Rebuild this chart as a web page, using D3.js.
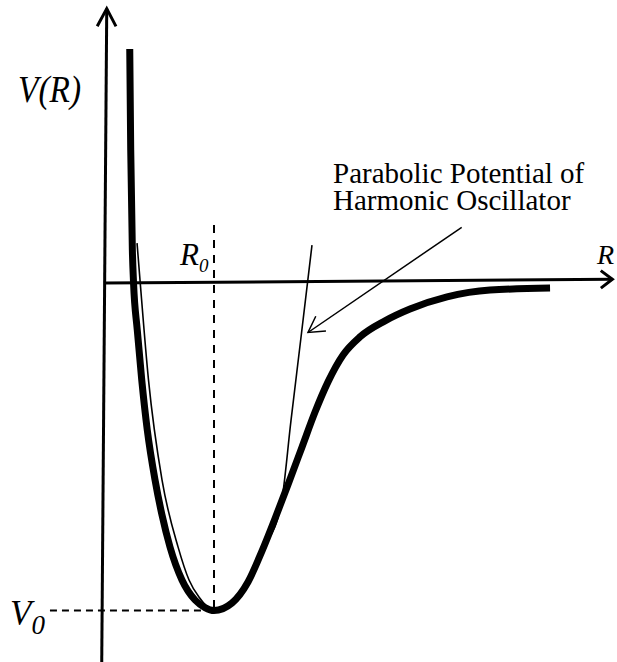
<!DOCTYPE html>
<html>
<head>
<meta charset="utf-8">
<script src="https://cdn.jsdelivr.net/npm/d3@7"></script>
<style>
  html, body { margin: 0; padding: 0; background: #fff; }
  svg { display: block; }
  text { font-family: "Liberation Serif", "Times New Roman", serif; fill: #000; }
</style>
</head>
<body>
<svg id="chart" width="617" height="662"></svg>
<script>
// Interatomic potential V(R); R in units of R0, V in units of |V0|
const potentialR = [0.227, 0.236, 0.251, 0.262, 0.296, 0.337, 0.388, 0.459, 0.523, 0.596,
                    0.706, 0.826, 0.917, 1.000, 1.165, 1.312, 1.440, 1.569, 1.688, 1.807,
                    1.927, 2.046, 2.184, 2.339, 2.569, 2.798, 3.138, 3.532, 4.083];
const potentialV = [0.712, 0.404, 0.099, -0.002, -0.145, -0.297, -0.450, -0.602, -0.709, -0.806,
                    -0.907, -0.968, -0.991, -1.000, -0.977, -0.913, -0.819, -0.712, -0.608, -0.502,
                    -0.395, -0.303, -0.221, -0.166, -0.117, -0.081, -0.044, -0.023, -0.017];

// Parabolic (harmonic oscillator) approximation about the minimum
const harmonicR = [0.294, 0.321, 0.399, 0.523, 0.670, 0.771, 0.862, 1.000, 1.165, 1.312,
                   1.440, 1.615, 1.706, 1.803, 1.899];
const harmonicV = [0.120, 0.008, -0.297, -0.602, -0.806, -0.907, -0.959, -1.000, -0.977, -0.913,
                   -0.819, -0.678, -0.422, -0.154, 0.114];

// Equilibrium separation and well depth
const equilibriumR = [1];
const wellDepthV = [-1];

// Text
const axisLabelV = "V(R)";
const axisLabelR = "R";
const annotationLines = ["Parabolic Potential of", "Harmonic Oscillator"];

const svg = d3.select("#chart");
const x = d3.scaleLinear().domain([0, 1]).range([105, 214]);
const y = d3.scaleLinear().domain([-1, 0]).range([610.5, 282.5]);

// Open arrowhead at a tip, wings swept back toward angle `back`
function arrowHead(tip, back, len, half) {
  const a1 = back + half, a2 = back - half;
  return "M" + (tip[0] + len * Math.cos(a1)) + "," + (tip[1] + len * Math.sin(a1)) +
         "L" + tip[0] + "," + tip[1] +
         "L" + (tip[0] + len * Math.cos(a2)) + "," + (tip[1] + len * Math.sin(a2));
}
function drawArrow(from, to, width, len, half) {
  svg.append("line")
    .attr("x1", from[0]).attr("y1", from[1]).attr("x2", to[0]).attr("y2", to[1])
    .attr("stroke", "#000").attr("stroke-width", width);
  const back = Math.atan2(from[1] - to[1], from[0] - to[0]);
  svg.append("path").attr("d", arrowHead(to, back, len, half))
    .attr("fill", "none").attr("stroke", "#000").attr("stroke-width", width)
    .attr("stroke-linejoin", "miter");
}

// Axes (drawn freehand, slightly off true vertical/horizontal)
drawArrow([x(-0.030), y(-1.16)], [x(0.016), y(0.835)], 3, 20, 28 * Math.PI / 180);
drawArrow([x(0), y(-0.0015)], [x(4.655), y(0.0098)], 3, 14.5, 37 * Math.PI / 180);

// Guide lines to the equilibrium point
svg.append("line")
  .attr("x1", x(equilibriumR[0])).attr("x2", x(equilibriumR[0]))
  .attr("y1", y(0.175)).attr("y2", y(wellDepthV[0]))
  .attr("stroke", "#000").attr("stroke-width", 2).attr("stroke-dasharray", "8,7");
svg.append("line")
  .attr("x1", x(-0.505)).attr("x2", x(equilibriumR[0]))
  .attr("y1", y(wellDepthV[0])).attr("y2", y(wellDepthV[0]))
  .attr("stroke", "#000").attr("stroke-width", 2).attr("stroke-dasharray", "7,5");

const line = d3.line()
  .x(d => x(d[0])).y(d => y(d[1]))
  .curve(d3.curveMonotoneX);

// Harmonic approximation (thin)
svg.append("path")
  .attr("d", line(harmonicR.map((r, i) => [r, harmonicV[i]])))
  .attr("fill", "none").attr("stroke", "#000").attr("stroke-width", 1.6);

// Potential curve (thick)
svg.append("path")
  .attr("d", line(potentialR.map((r, i) => [r, potentialV[i]])))
  .attr("fill", "none").attr("stroke", "#000").attr("stroke-width", 7)
  .attr("stroke-linecap", "butt").attr("stroke-linejoin", "round");

// Annotation pointer
drawArrow([461.7, 227.3], [308, 332.5], 1.5, 18, 30 * Math.PI / 180);

// Labels
svg.append("text").attr("x", 18).attr("y", 102)
  .attr("font-size", 37).attr("font-style", "italic")
  .attr("textLength", 63).attr("lengthAdjust", "spacingAndGlyphs")
  .text(axisLabelV);

svg.append("text").attr("x", 597).attr("y", 263.5)
  .attr("font-size", 28).attr("font-style", "italic")
  .text(axisLabelR);

const r0 = svg.append("text").attr("x", x(equilibriumR[0]) - 34).attr("y", 264.5)
  .attr("font-size", 31).attr("font-style", "italic");
r0.append("tspan").text("R");
r0.append("tspan").attr("font-size", 19).attr("dy", 7).text("0");

const v0 = svg.append("text").attr("x", 10).attr("y", y(wellDepthV[0]) + 14)
  .attr("font-size", 35).attr("font-style", "italic");
v0.append("tspan").text("V");
v0.append("tspan").attr("font-size", 27).attr("dy", 9).text("0");

const ann = svg.append("text").attr("font-size", 29);
annotationLines.forEach((t, i) => {
  ann.append("tspan").attr("x", 333).attr("y", 183 + i * 27).text(t);
});
</script>
</body>
</html>
